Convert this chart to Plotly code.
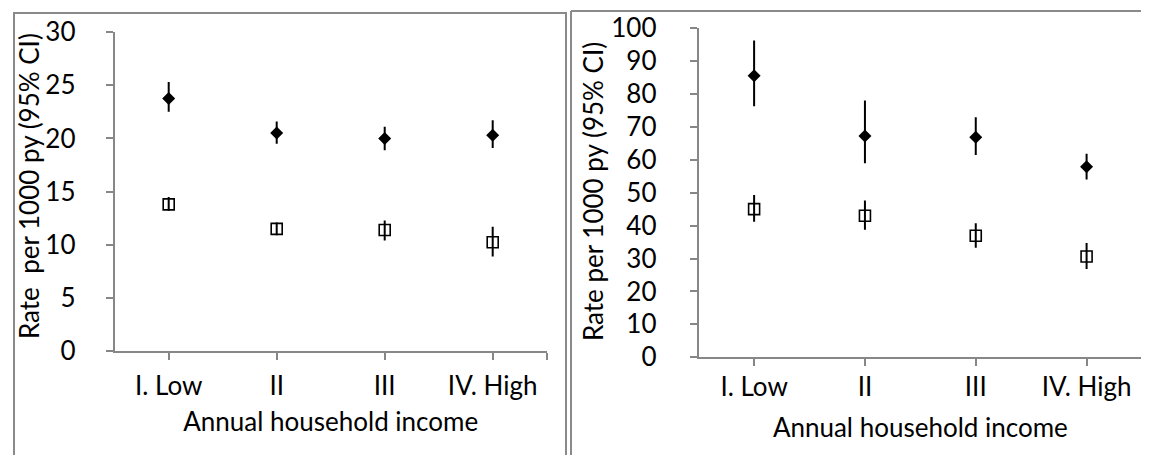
import plotly.graph_objects as go

categories = ["I. Low", "II", "III", "IV. High"]

# Left panel
left_filled = [23.75, 20.5, 20.0, 20.3]
left_filled_hi = [25.3, 21.6, 21.1, 21.7]
left_filled_lo = [22.5, 19.5, 18.9, 19.1]
left_open = [13.8, 11.5, 11.4, 10.25]
left_open_hi = [14.5, 12.1, 12.3, 11.7]
left_open_lo = [13.2, 10.9, 10.4, 8.9]

# Right panel
right_filled = [85.5, 67.2, 66.8, 57.9]
right_filled_hi = [96.2, 78.0, 72.9, 61.8]
right_filled_lo = [76.2, 58.9, 61.4, 54.0]
right_open = [45.0, 43.0, 36.9, 30.6]
right_open_hi = [49.3, 47.6, 40.7, 34.7]
right_open_lo = [41.2, 38.7, 33.3, 26.8]

left_yticks = [0, 5, 10, 15, 20, 25, 30]
right_yticks = [0, 10, 20, 30, 40, 50, 60, 70, 80, 90, 100]

x_title = "Annual household income"
left_y_title = "Rate\u00a0 per 1000 py (95% CI)"
right_y_title = "Rate per 1000 py (95% CI)"

W, H = 1149, 455
FONT = "Lato"
FS = 26
AX = "#878787"

xpos = list(range(len(categories)))


def px_x(v):
    return v / W


def px_y(v):
    return 1 - v / H


def err(vals, hi, lo):
    return dict(type="data", symmetric=False,
                array=[h - v for h, v in zip(hi, vals)],
                arrayminus=[v - l for v, l in zip(vals, lo)],
                color="black", thickness=2, width=0)


fig = go.Figure()

for xa, ya, f, fh, fl, o, oh, ol in [
    ("x", "y", left_filled, left_filled_hi, left_filled_lo, left_open, left_open_hi, left_open_lo),
    ("x2", "y2", right_filled, right_filled_hi, right_filled_lo, right_open, right_open_hi, right_open_lo),
]:
    fig.add_trace(go.Scatter(x=xpos, y=o, mode="markers", xaxis=xa, yaxis=ya,
                             error_y=err(o, oh, ol),
                             marker=dict(symbol="square-open", size=11, color="black",
                                         line=dict(width=1.6, color="black")),
                             showlegend=False))
    fig.add_trace(go.Scatter(x=xpos, y=f, mode="markers", xaxis=xa, yaxis=ya,
                             error_y=err(f, fh, fl),
                             marker=dict(symbol="diamond", size=10, color="black"),
                             showlegend=False))

tfont = dict(family=FONT, size=FS, color="black")

xcommon = dict(range=[-0.5, 3.5], tickvals=xpos + [3.5], ticktext=categories + [""],
               showline=True, linecolor=AX, linewidth=2, ticks="outside", ticklen=7,
               tickcolor=AX, tickwidth=2, showgrid=False, zeroline=False,
               tickfont=tfont, automargin=False, fixedrange=True)
ycommon = dict(showline=True, linecolor=AX, linewidth=2, ticks="outside", ticklen=7,
               tickcolor=AX, tickwidth=2, showgrid=False, zeroline=False,
               tickfont=tfont, automargin=False, fixedrange=True)

fig.update_layout(
    width=W, height=H, margin=dict(l=0, r=0, t=0, b=0),
    paper_bgcolor="white", plot_bgcolor="white",
    xaxis=dict(xcommon, domain=[px_x(106.7), px_x(538.7)], anchor="y",
               ticklabelstandoff=3,
               title=dict(text=x_title, font=tfont, standoff=13)),
    yaxis=dict(ycommon, domain=[px_y(343.3), px_y(24)], anchor="x", range=[0, 30],
               tickvals=left_yticks, ticklabelstandoff=25),
    xaxis2=dict(xcommon, domain=[px_x(690.7), px_x(1134)], anchor="y2",
                ticklabelstandoff=-2,
                title=dict(text=x_title, font=tfont, standoff=18)),
    yaxis2=dict(ycommon, domain=[px_y(349.3), px_y(20)], anchor="x2", range=[0, 100],
                tickvals=right_yticks, ticklabelstandoff=28),
    annotations=[
        dict(text=left_y_title, textangle=-90, xref="paper", yref="paper",
             x=px_x(21), y=px_y(178), xanchor="center", yanchor="middle",
             showarrow=False, font=tfont),
        dict(text=right_y_title, textangle=-90, xref="paper", yref="paper",
             x=px_x(585), y=px_y(184), xanchor="center", yanchor="middle",
             showarrow=False, font=tfont),
    ],
    shapes=[
        dict(type="rect", xref="paper", yref="paper", x0=px_x(6), x1=px_x(558),
             y0=px_y(453), y1=px_y(5), line=dict(color="#8a8a8a", width=2)),
        dict(type="line", xref="paper", yref="paper", x0=px_x(563), x1=px_x(563),
             y0=px_y(452), y1=px_y(3), line=dict(color="#8a8a8a", width=2)),
        dict(type="line", xref="paper", yref="paper", x0=px_x(563), x1=1,
             y0=px_y(3), y1=px_y(3), line=dict(color="#8a8a8a", width=2)),
        dict(type="line", xref="paper", yref="paper", x0=px_x(563), x1=1,
             y0=px_y(452), y1=px_y(452), line=dict(color="#dddddd", width=2)),
    ],
)

fig.write_html("out.html")
